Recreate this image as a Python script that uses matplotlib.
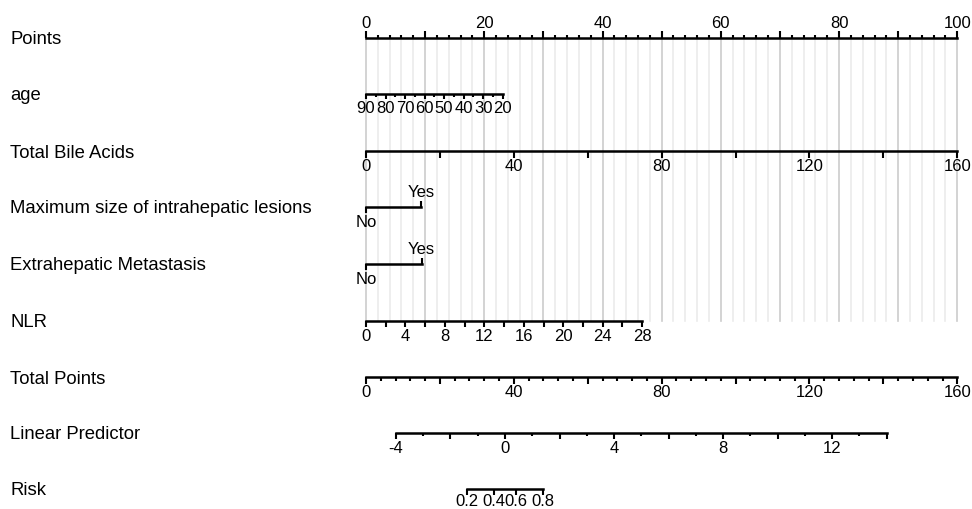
import matplotlib
matplotlib.use('agg')
import matplotlib.pyplot as plt
import numpy as np

plt.rcParams['font.family'] = ['Liberation Sans', 'DejaVu Sans']

# row names of the nomogram
row_names = ['Points', 'age', 'Total Bile Acids', 'Maximum size of intrahepatic lesions',
             'Extrahepatic Metastasis', 'NLR', 'Total Points', 'Linear Predictor', 'Risk']

# Points scale
points_labels = [0, 20, 40, 60, 80, 100]

# age (value -> points, read at both ends of the scale)
age_labels = [90, 80, 70, 60, 50, 40, 30, 20]
age_range = [90, 20]
age_points = [0.0, 23.1]

# Total Bile Acids
bile_labels = [0, 40, 80, 120, 160]
bile_ticks = [0, 20, 40, 60, 80, 100, 120, 140, 160]
bile_range = [0, 160]
bile_points = [0.0, 100.0]

# categorical rows
size_levels = ['No', 'Yes']
size_points = [0.0, 9.3]
meta_levels = ['No', 'Yes']
meta_points = [0.0, 9.4]

# NLR
nlr_labels = [0, 4, 8, 12, 16, 20, 24, 28]
nlr_range = [0, 28]
nlr_points = [0.0, 46.7]

# Total Points
total_labels = [0, 40, 80, 120, 160]
total_max = 160

# Linear Predictor (value -> total points)
lp_labels = [-4, 0, 4, 8, 12]
lp_range = [-4, 14]
lp_total = [8.1, 140.9]

# Risk (value -> total points)
risk_labels = ['0.2', '0.4', '0.6', '0.8']
risk_total = [27.3, 34.6, 40.6, 47.9]

# layout (pixels)
W, H = 972, 510
x0_px, px_per_pt = 366, 5.913
row_y = [38.5, 95, 152, 208, 265, 322, 378, 434, 490]
fs_row = 13.3
fs_tick = 12
lw = 1.8

fig = plt.figure(figsize=(W / 100, H / 100), dpi=100)
ax = fig.add_axes([0, 0, 1, 1])
ax.set_xlim(-x0_px / px_per_pt, (W - x0_px) / px_per_pt)
ax.set_ylim(H, 0)
ax.axis('off')


def lin(v, vr, pr):
    return np.interp(v, vr, pr) if vr[0] < vr[1] else np.interp(v, vr[::-1], pr[::-1])


def scale_line(y, xs):
    ax.plot([min(xs), max(xs)], [y, y], color='black', lw=lw, solid_capstyle='projecting', zorder=3)


def ticks(y, xs, length, up=False):
    d = -length if up else length
    for x in xs:
        ax.plot([x, x], [y, y + d], color='black', lw=1.5, solid_capstyle='butt', zorder=3)


def labels_below(y, xs, texts, off=7):
    for x, t in zip(xs, texts):
        ax.text(x, y + off, str(t), ha='center', va='top', fontsize=fs_tick)


# grid lines
for p in np.arange(0, 101, 2):
    major = p % 10 == 0
    ax.plot([p, p], [row_y[0], row_y[5]], color='#cccccc' if major else '#ebebeb',
            lw=1.2, zorder=0)

# row labels
for name, y in zip(row_names, row_y):
    fig.text(10 / W, 1 - (y + 1) / H, name, ha='left', va='center', fontsize=fs_row)

# Points
y = row_y[0]
scale_line(y, [0, 100])
ticks(y, [p for p in np.arange(0, 101, 2) if p % 10 == 0], 7, up=True)
ticks(y, [p for p in np.arange(0, 101, 2) if p % 10 != 0], 3, up=True)
for p in points_labels:
    ax.text(p, y - 10, str(p), ha='center', va='baseline', fontsize=fs_tick)

# age
y = row_y[1]
scale_line(y, age_points)
ticks(y, lin(np.array(age_labels), age_range, age_points), 5)
ticks(y, lin(np.arange(85, 20, -10), age_range, age_points), 3)
labels_below(y, lin(np.array(age_labels), age_range, age_points), age_labels, off=6)

# Total Bile Acids
y = row_y[2]
scale_line(y, bile_points)
ticks(y, lin(np.array(bile_ticks), bile_range, bile_points), 7)
labels_below(y, lin(np.array(bile_labels), bile_range, bile_points), bile_labels)

# categorical rows
for y, lv, pts in [(row_y[3], size_levels, size_points), (row_y[4], meta_levels, meta_points)]:
    scale_line(y, pts)
    ticks(y, [pts[0]], 6)
    ticks(y, [pts[1]], 6, up=True)
    ax.text(pts[0], y + 7, lv[0], ha='center', va='top', fontsize=fs_tick)
    ax.text(pts[1], y - 8, lv[1], ha='center', va='bottom', fontsize=fs_tick)

# NLR
y = row_y[5]
scale_line(y, nlr_points)
ticks(y, lin(np.arange(0, 29, 2), nlr_range, nlr_points), 6)
labels_below(y, lin(np.array(nlr_labels), nlr_range, nlr_points), nlr_labels)

# Total Points
y = row_y[6]
tp = lambda v: np.asarray(v) * 100 / total_max
scale_line(y, [0, 100])
ticks(y, tp([v for v in range(0, 161, 4) if v % 20 == 0]), 7)
ticks(y, tp([v for v in range(0, 161, 4) if v % 20 != 0]), 4)
labels_below(y, tp(total_labels), total_labels)

# Linear Predictor
y = row_y[7]
lp = lambda v: tp(lin(np.asarray(v, dtype=float), lp_range, lp_total))
scale_line(y, lp(lp_range))
ticks(y, lp([v for v in range(-4, 15) if v % 2 == 0]), 6)
ticks(y, lp([v for v in range(-4, 15) if v % 2 != 0]), 3)
labels_below(y, lp(lp_labels), lp_labels)

# Risk
y = row_y[8]
rx = tp(risk_total)
scale_line(y, rx)
ticks(y, rx, 6)
labels_below(y, rx, risk_labels, off=4)

plt.savefig('out.png', dpi=100)
